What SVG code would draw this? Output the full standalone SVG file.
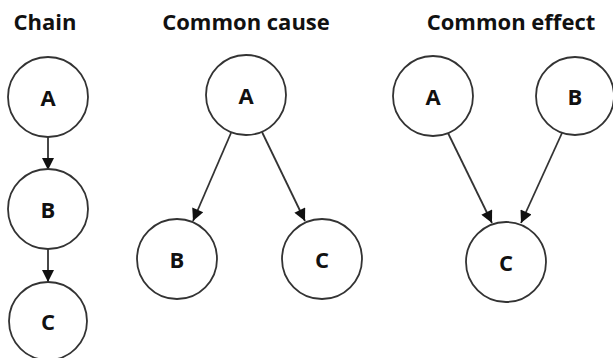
<svg xmlns="http://www.w3.org/2000/svg" width="613" height="358" viewBox="0 0 613 358">
<defs>
<style>
.t{font-family:"Open Sans","DejaVu Sans",sans-serif;font-weight:bold;font-size:22px;fill:#111;text-anchor:middle}
.n circle{fill:#fff;stroke:#333;stroke-width:1.8}
.n text{font-family:"Open Sans","DejaVu Sans",sans-serif;font-weight:bold;font-size:22px;fill:#111;text-anchor:middle;dominant-baseline:central}
.e line{stroke:#333;stroke-width:1.8;marker-end:url(#ah)}
</style>
<marker id="ah" viewBox="0 0 10 10" refX="10" refY="5" markerWidth="14" markerHeight="12" markerUnits="userSpaceOnUse" orient="auto">
<path d="M0,0 L10,5 L0,10 z" fill="#111"/>
</marker>
</defs>
<rect width="613" height="358" fill="#fff"/>
<text class="t" x="45" y="30">Chain</text>
<text class="t" x="246" y="30">Common cause</text>
<text class="t" x="511" y="30">Common effect</text>
<g class="e">
<line x1="48" y1="137" x2="48" y2="170"/>
<line x1="48" y1="249" x2="48" y2="282"/>
<line x1="231" y1="133" x2="193" y2="221"/>
<line x1="262" y1="132" x2="305" y2="221"/>
<line x1="448" y1="133" x2="492" y2="223"/>
<line x1="562" y1="133" x2="521" y2="223"/>
</g>
<g id="chainA" class="n"><circle cx="48" cy="97" r="40"/><text x="48" y="97">A</text></g>
<g id="chainB" class="n"><circle cx="48" cy="209" r="40"/><text x="48" y="209">B</text></g>
<g id="chainC" class="n"><circle cx="48" cy="321" r="39"/><text x="48" y="321">C</text></g>
<g id="causeA" class="n"><circle cx="246" cy="95" r="40"/><text x="246" y="95">A</text></g>
<g id="causeB" class="n"><circle cx="177" cy="259" r="40"/><text x="177" y="259">B</text></g>
<g id="causeC" class="n"><circle cx="322" cy="259" r="40"/><text x="322" y="259">C</text></g>
<g id="effectA" class="n"><circle cx="433" cy="96" r="40"/><text x="433" y="96">A</text></g>
<g id="effectB" class="n"><circle cx="575" cy="96" r="39"/><text x="575" y="96">B</text></g>
<g id="effectC" class="n"><circle cx="506" cy="262" r="40"/><text x="506" y="262">C</text></g>
</svg>
